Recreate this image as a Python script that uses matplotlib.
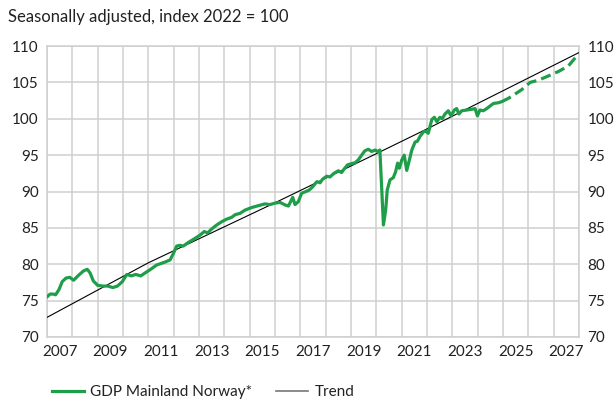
import numpy as np
import matplotlib
matplotlib.use('Agg')
import matplotlib.pyplot as plt
from matplotlib.lines import Line2D

plt.rcParams['font.family'] = ['Lato', 'DejaVu Sans']
plt.rcParams['font.size'] = 11

# GDP Mainland Norway, actual (decimal years, index 2022 = 100)
gdpDates = [2007.00, 2007.12, 2007.25, 2007.34, 2007.47, 2007.60, 2007.75, 2007.90,
            2008.05, 2008.25, 2008.45, 2008.59, 2008.70, 2008.83, 2009.00, 2009.20,
            2009.40, 2009.60, 2009.78, 2009.97, 2010.15, 2010.33, 2010.50, 2010.70,
            2010.87, 2011.09, 2011.33, 2011.66, 2011.86, 2011.99, 2012.12, 2012.25,
            2012.38, 2012.58, 2012.84, 2013.04, 2013.21, 2013.34, 2013.50, 2013.70,
            2013.90, 2014.09, 2014.29, 2014.42, 2014.62, 2014.82, 2015.08, 2015.34,
            2015.60, 2015.80, 2016.00, 2016.20, 2016.40, 2016.53, 2016.70, 2016.79,
            2016.92, 2017.05, 2017.22, 2017.35, 2017.49, 2017.65, 2017.78, 2017.88,
            2018.04, 2018.17, 2018.33, 2018.50, 2018.63, 2018.72, 2018.86, 2018.99,
            2019.16, 2019.29, 2019.42, 2019.55, 2019.68, 2019.82, 2019.95, 2020.05,
            2020.14, 2020.28, 2020.37, 2020.43, 2020.54, 2020.67, 2020.76, 2020.84,
            2020.91, 2021.00, 2021.10, 2021.20, 2021.31, 2021.40, 2021.53, 2021.62,
            2021.73, 2021.86, 2021.95, 2022.05, 2022.19, 2022.29, 2022.39, 2022.51,
            2022.60, 2022.71, 2022.84, 2022.95, 2023.08, 2023.17, 2023.26, 2023.37,
            2023.57, 2023.77, 2023.90, 2023.99, 2024.09, 2024.22, 2024.36, 2024.49,
            2024.62, 2024.82, 2024.95]
gdpVals = [75.5, 75.9, 75.9, 75.8, 76.5, 77.6, 78.1, 78.2,
           77.8, 78.5, 79.1, 79.3, 78.8, 77.7, 77.1, 77.0,
           77.0, 76.8, 77.0, 77.6, 78.6, 78.4, 78.6, 78.4,
           78.8, 79.3, 79.9, 80.3, 80.6, 81.5, 82.5, 82.6,
           82.5, 83.0, 83.55, 84.0, 84.5, 84.3, 84.85, 85.4,
           85.85, 86.2, 86.45, 86.8, 87.0, 87.45, 87.8, 88.05,
           88.3, 88.2, 88.4, 88.5, 88.15, 88.0, 89.2, 88.2,
           88.6, 89.75, 90.0, 90.2, 90.65, 91.35, 91.2, 91.7,
           92.1, 92.0, 92.5, 92.85, 92.6, 93.05, 93.65, 93.8,
           93.95, 94.35, 95.0, 95.6, 95.8, 95.5, 95.7, 95.5,
           95.7, 85.4, 87.5, 90.2, 91.6, 91.9, 92.7, 93.9,
           93.2, 94.3, 95.0, 92.9, 94.4, 95.7, 96.8, 96.9,
           97.6, 98.2, 98.3, 98.0, 99.9, 100.2, 99.6, 100.2,
           100.0, 100.65, 101.1, 100.4, 101.2, 101.4, 100.65, 101.1,
           101.2, 101.3, 101.4, 100.4, 101.2, 101.1, 101.4, 101.75,
           102.1, 102.2, 102.35]

# projection (dashed)
projDates = [2024.95, 2025.21, 2025.48, 2025.74, 2026.07, 2026.40, 2026.80,
             2027.19, 2027.58, 2028.00]
projVals = [102.35, 102.8, 103.4, 104.0, 105.0, 105.3, 105.9,
            106.5, 107.25, 109.0]

# trend
trendDates = [2007, 2011, 2016, 2020, 2022, 2028]
trendVals = [72.7, 80.2, 88.45, 95.2, 98.6, 109.1]

yearLabels = ['2007', '2009', '2011', '2013', '2015', '2017', '2019',
              '2021', '2023', '2025', '2027']

green = '#1f9e4a'
gridClr = '#cfcfcf'
txtClr = '#222222'

fig = plt.figure(figsize=(6.15, 4.03), dpi=100)
ax = fig.add_axes([47/615, 1-337/403, (579-47)/615, (337-46)/403])

ax.plot(trendDates, trendVals, color='black', lw=0.8, zorder=3)
ax.plot(gdpDates, gdpVals, color=green, lw=2.3, zorder=4,
        solid_joinstyle='round', solid_capstyle='round')
ax.plot(projDates, projVals, color=green, lw=2.3, zorder=4,
        dashes=(3.2, 1.6))

ax.set_xlim(2007, 2028)
ax.set_ylim(70, 110)
ax.set_yticks(np.arange(70, 111, 5))
ax.set_xticks(np.arange(2007, 2029, 1), minor=True)
ax.set_xticks([int(y) + 0.5 for y in yearLabels])
ax.set_xticklabels(yearLabels)
ax.grid(True, which='minor', axis='x', color=gridClr, lw=1.1)
ax.grid(True, which='major', axis='y', color=gridClr, lw=1.1)
ax.set_axisbelow(True)
ax.tick_params(axis='both', which='both', length=0, labelsize=11, colors=txtClr)
ax.tick_params(axis='y', labelright=True, pad=6)
ax.tick_params(axis='x', pad=6)
for sp in ax.spines.values():
    sp.set_color(gridClr)
    sp.set_linewidth(1.1)

fig.text(8/615, 1-17/403, 'Seasonally adjusted, index 2022 = 100',
         fontsize=12, va='center', ha='left', color=txtClr)

handles = [Line2D([], [], color=green, lw=2.3),
           Line2D([], [], color='#777777', lw=1.2)]
fig.legend(handles, ['GDP Mainland Norway*', 'Trend'], loc='center left',
           bbox_to_anchor=(38/615, 1-392/403), ncol=2, frameon=False,
           fontsize=11, handlelength=2.1, handletextpad=0.4, columnspacing=1.6,
           labelcolor=txtClr)

fig.savefig('out.png', dpi=100)
plt.close()
